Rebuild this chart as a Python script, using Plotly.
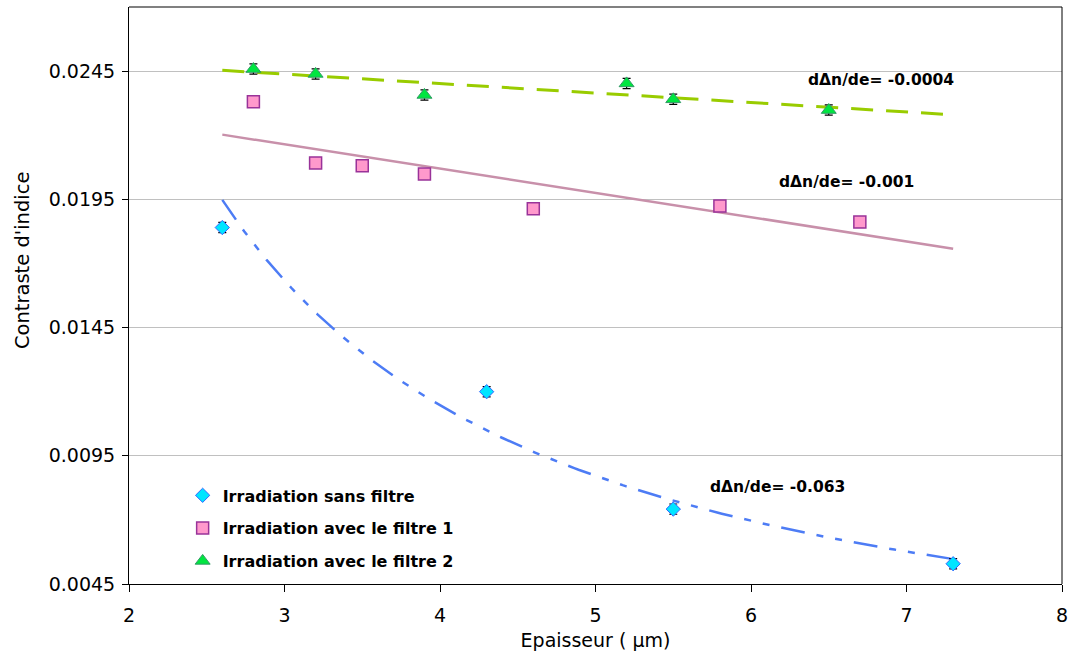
import numpy as np
import plotly.graph_objects as go

# ---- data ----
x_sans = [2.6, 4.3, 5.5, 7.3]
y_sans = [0.0184, 0.0120, 0.00742, 0.00529]
err_sans = [0.0002, 0.0002, 0.0002, 0.0002]

x_f1 = [2.8, 3.2, 3.5, 3.9, 4.6, 5.8, 6.7]
y_f1 = [0.02331, 0.02092, 0.02081, 0.02049, 0.01913, 0.01924, 0.01862]
err_f1 = [0.0002] * 7

x_f2 = [2.8, 3.2, 3.9, 5.2, 5.5, 6.5]
y_f2 = [0.02458, 0.02439, 0.02357, 0.02402, 0.02340, 0.02298]
err_f2 = [0.0002] * 6

names = ["Irradiation sans filtre", "Irradiation avec le filtre 1", "Irradiation avec le filtre 2"]
slope_labels = ["dΔn/de= -0.063", "dΔn/de= -0.001", "dΔn/de= -0.0004"]
y_ticks = [0.0045, 0.0095, 0.0145, 0.0195, 0.0245]
x_ticks = [2, 3, 4, 5, 6, 7, 8]
trend_range = [2.6, 7.3]
x_title = "Epaisseur ( µm)"
y_title = "Contraste d'indice"

FONT = "DejaVu Sans, Arial, sans-serif"

# ---- trendlines (fitted from the data) ----
xt = np.linspace(trend_range[0], trend_range[1], 200)
b, lna = np.polyfit(np.log(x_sans), np.log(y_sans), 1)
yt_sans = np.exp(lna) * xt ** b
p1 = np.polyfit(x_f1, y_f1, 1)
yt_f1 = np.polyval(p1, xt)
p2 = np.polyfit(x_f2, y_f2, 1)
yt_f2 = np.polyval(p2, xt)

fig = go.Figure()

# trend lines
fig.add_trace(go.Scatter(x=xt, y=yt_sans, mode="lines", showlegend=False, hoverinfo="skip",
                         line=dict(color="#4d7cf5", width=2.5, dash="24px,12px,7px,12px,7px,12px")))
fig.add_trace(go.Scatter(x=xt, y=yt_f1, mode="lines", showlegend=False, hoverinfo="skip",
                         line=dict(color="#c890aa", width=2.5)))
fig.add_trace(go.Scatter(x=xt, y=yt_f2, mode="lines", showlegend=False, hoverinfo="skip",
                         line=dict(color="#99cc00", width=3, dash="22px,13px")))

# data series
fig.add_trace(go.Scatter(x=x_sans, y=y_sans, mode="markers", name=names[0], legendgroup="a",
                         marker=dict(symbol="diamond", size=11, color="#00e5ff",
                                     line=dict(color="#3366ff", width=1)),
                         error_y=dict(type="data", array=err_sans, color="black", thickness=1.2, width=4)))
fig.add_trace(go.Scatter(x=x_f1, y=y_f1, mode="markers", name=names[1], legendgroup="b",
                         marker=dict(symbol="square", size=12, color="#ff99cc",
                                     line=dict(color="#993399", width=1.5)),
                         error_y=dict(type="data", array=err_f1, color="black", thickness=1.2, width=4)))
fig.add_trace(go.Scatter(x=x_f2, y=y_f2, mode="markers", name=names[2], legendgroup="c",
                         marker=dict(symbol="triangle-up", size=13, color="#00e640",
                                     line=dict(color="#339966", width=1)),
                         error_y=dict(type="data", array=err_f2, color="black", thickness=1.2, width=4)))

# slope annotations
ann_pos = [(5.725, 0.00829), (6.166, 0.02018), (6.352, 0.02415)]
for (ax_, ay_), txt in zip(ann_pos, slope_labels):
    fig.add_annotation(x=ax_, y=ay_, text="<b>%s</b>" % txt, showarrow=False,
                       xanchor="left", yanchor="middle",
                       font=dict(family=FONT, size=15.5, color="black"))

# y axis title (placed as in the reference, slightly above centre)
fig.add_annotation(xref="paper", yref="paper", x=-0.1146, y=0.5615, text=y_title,
                   showarrow=False, textangle=-90, xanchor="center", yanchor="middle",
                   font=dict(family=FONT, size=19.5, color="black"))

# frame: top gray, right black
fig.add_shape(type="line", xref="paper", yref="paper", x0=0, x1=1, y0=1, y1=1,
              line=dict(color="#808080", width=2))
fig.add_shape(type="line", xref="paper", yref="paper", x0=1, x1=1, y0=0, y1=1,
              line=dict(color="black", width=1))

fig.update_layout(
    width=1075, height=656,
    margin=dict(l=129, r=8, t=7, b=72),
    paper_bgcolor="white", plot_bgcolor="white",
    font=dict(family=FONT, size=19, color="black"),
    showlegend=True,
    legend=dict(x=0.0575, y=0.183, xanchor="left", yanchor="top",
                bgcolor="rgba(0,0,0,0)", tracegroupgap=9,
                font=dict(family=FONT, size=16, color="black", weight="bold"),
                itemwidth=30),
    xaxis=dict(range=[2, 8], tickvals=x_ticks, ticks="outside", ticklen=7,
               tickcolor="black", showline=True, linecolor="black", linewidth=1,
               showgrid=False, zeroline=False, ticklabelstandoff=7,
               title=dict(text=x_title, font=dict(family=FONT, size=19), standoff=8),
               tickfont=dict(family=FONT, size=19)),
    yaxis=dict(range=[0.0045, 0.027], tickvals=y_ticks, tickformat=".4f",
               ticks="outside", ticklen=6, tickcolor="black",
               showline=True, linecolor="black", linewidth=1, ticklabelstandoff=3,
               showgrid=True, gridcolor="#c0c0c0", gridwidth=1, zeroline=False,
               tickfont=dict(family=FONT, size=19)),
)

fig.write_html("out.html", config={"displayModeBar": False},
               post_script="document.body.style.margin='0';")
